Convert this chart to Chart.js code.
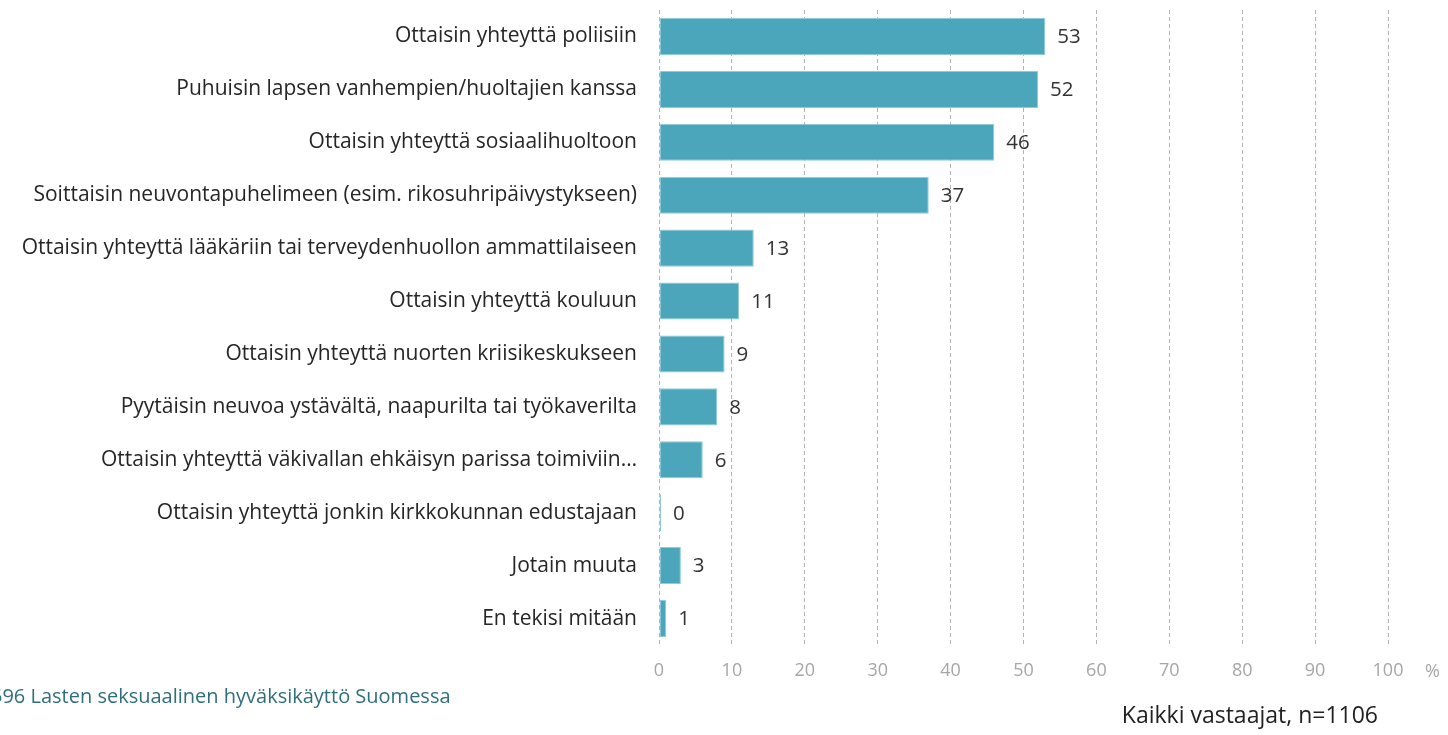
<!DOCTYPE html>
<html>
<head>
    <meta charset="utf-8">
    <title>Lasten seksuaalinen hyväksikäyttö</title>
    <script src="https://cdn.jsdelivr.net/npm/chart.js@4/dist/chart.umd.min.js"></script>
    <style>
        html, body { margin: 0; padding: 0; background: #fff; }
        #wrap { width: 1448px; height: 735px; position: relative; }
    </style>
</head>
<body>
    <div id="wrap"><canvas id="chart"></canvas></div>
    <script>
        const categories = [
            'Ottaisin yhteyttä poliisiin',
            'Puhuisin lapsen vanhempien/huoltajien kanssa',
            'Ottaisin yhteyttä sosiaalihuoltoon',
            'Soittaisin neuvontapuhelimeen (esim. rikosuhripäivystykseen)',
            'Ottaisin yhteyttä lääkäriin tai terveydenhuollon ammattilaiseen',
            'Ottaisin yhteyttä kouluun',
            'Ottaisin yhteyttä nuorten kriisikeskukseen',
            'Pyytäisin neuvoa ystävältä, naapurilta tai työkaverilta',
            'Ottaisin yhteyttä väkivallan ehkäisyn parissa toimiviin…',
            'Ottaisin yhteyttä jonkin kirkkokunnan edustajaan',
            'Jotain muuta',
            'En tekisi mitään'
        ]
        const values = [53, 52, 46, 37, 13, 11, 9, 8, 6, 0, 3, 1]
        const xTicks = [0, 10, 20, 30, 40, 50, 60, 70, 80, 90, 100]

        const FONT = '"Open Sans", sans-serif'

        // value labels next to bars + footer texts
        const extras = {
            id: 'extras',
            afterDatasetsDraw(chart) {
                const ctx = chart.ctx
                ctx.save()
                ctx.font = '20.5px ' + FONT
                ctx.fillStyle = '#333'
                ctx.textBaseline = 'middle'
                ctx.textAlign = 'left'
                chart.getDatasetMeta(0).data.forEach((bar, i) => {
                    ctx.fillText(values[i], bar.x + 12, bar.y + 1)
                })
                ctx.restore()
            },
            afterDraw(chart) {
                const ctx = chart.ctx
                const area = chart.chartArea
                ctx.save()
                ctx.textBaseline = 'middle'
                ctx.font = '18px ' + FONT
                ctx.fillStyle = '#a6a6a6'
                ctx.textAlign = 'left'
                ctx.fillText('%', area.right + 37, 672)
                ctx.font = '20px ' + FONT
                ctx.fillStyle = '#2f6f7d'
                ctx.fillText('596 Lasten seksuaalinen hyväksikäyttö Suomessa', -9, 697)
                ctx.font = '23px ' + FONT
                ctx.fillStyle = '#222'
                ctx.textAlign = 'right'
                ctx.fillText('Kaikki vastaajat, n=1106', 1378, 716)
                ctx.restore()
            }
        }

        new Chart(document.getElementById('chart'), {
            type: 'bar',
            data: {
                labels: categories,
                datasets: [{
                    data: values,
                    backgroundColor: '#4ba6bc',
                    borderColor: '#8fcbd9',
                    borderWidth: 1,
                    borderSkipped: false,
                    categoryPercentage: 0.7,
                    barPercentage: 1,
                    minBarLength: 2
                }]
            },
            options: {
                indexAxis: 'y',
                responsive: true,
                maintainAspectRatio: false,
                animation: false,
                layout: { padding: { top: 10, right: 60, left: 0, bottom: 0 } },
                plugins: {
                    legend: { display: false },
                    tooltip: { enabled: false }
                },
                scales: {
                    x: {
                        min: 0,
                        max: 100,
                        afterBuildTicks: (scale) => {
                            scale.ticks = xTicks.map((v) => ({ value: v }))
                        },
                        afterFit: (scale) => { scale.height = 90 },
                        grid: {
                            color: '#b3b3b3',
                            lineWidth: 1,
                            drawTicks: false
                        },
                        border: { display: false, dash: [4, 3] },
                        ticks: {
                            color: '#a6a6a6',
                            font: { family: FONT, size: 18 },
                            padding: 15
                        }
                    },
                    y: {
                        afterFit: (scale) => {
                            scale.width = 659
                            scale.paddingTop = 0
                            scale.paddingBottom = 0
                        },
                        grid: { display: false, drawTicks: false },
                        border: { display: false },
                        ticks: {
                            color: '#262626',
                            font: { family: FONT, size: 21 },
                            padding: 22,
                            autoSkip: false
                        }
                    }
                }
            },
            plugins: [extras]
        })
    </script>
</body>
</html>
